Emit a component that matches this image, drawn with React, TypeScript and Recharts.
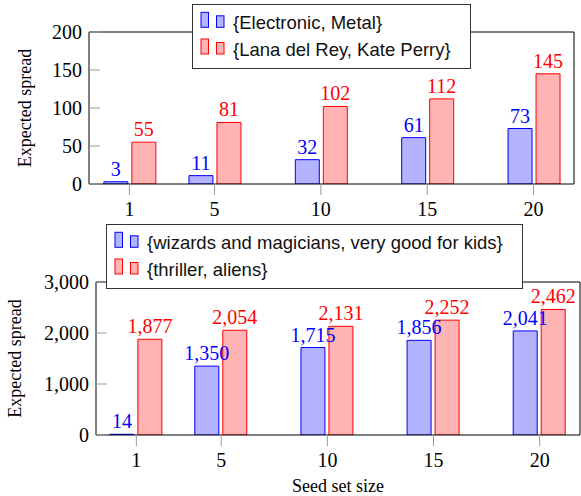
import { BarChart, Bar, XAxis, YAxis, Legend, LabelList } from "recharts";

// seed set sizes on the shared x axis
const seedSizes = [1, 5, 10, 15, 20];

// music panel
const electronicMetal = [3, 11, 32, 61, 73];
const lanaKate = [55, 81, 102, 112, 145];
const musicTicks = [0, 50, 100, 150, 200];
const musicLabels = ["{Electronic, Metal}", "{Lana del Rey, Kate Perry}"];

// movies panel
const wizardsKids = [14, 1350, 1715, 1856, 2041];
const thrillerAliens = [1877, 2054, 2131, 2252, 2462];
const movieTicks = [0, 1000, 2000, 3000];
const movieLabels = ["{wizards and magicians, very good for kids}", "{thriller, aliens}"];

const X_DOMAIN = [-0.9, 21.9];

const BLUE = { fill: "#b3b3ff", stroke: "#0000ff" };
const RED = { fill: "#ffb3b3", stroke: "#ff0000" };
const SERIF = "'Liberation Serif', 'Times New Roman', serif";
const SANS = "'Liberation Sans', Arial, sans-serif";
const TICK_GRAY = "#9a9a9a";

const fmt = (v: number) => Number(v).toLocaleString("en-US");

const toRows = (a: number[], b: number[]) =>
  seedSizes.map((size, i) => ({ size, first: a[i], second: b[i] }));

function LegendBox({ width, labels }: { width: number; labels: string[] }) {
  const h = 65;
  return (
    <svg width={width} height={h} style={{ display: "block" }}>
      <rect x={0.5} y={0.5} width={width - 1} height={h - 1} fill="#fff" stroke="#333" />
      {labels.map((text, i) => {
        const c = i === 0 ? BLUE : RED;
        const base = 23.3 + i * 26.7;
        return (
          <g key={text}>
            <rect x={9} y={base - 15} width={7.5} height={15} fill={c.fill} stroke={c.stroke} />
            <rect x={24.5} y={base - 11.5} width={7.5} height={11.5} fill={c.fill} stroke={c.stroke} />
            <text x={41} y={base + 2} fontFamily={SANS} fontSize={18.5} fill="#111">
              {text}
            </text>
          </g>
        );
      })}
    </svg>
  );
}

// rotated y-axis title; baseline sits at titleX
function VerticalTitle(props: any) {
  const { viewBox, titleX, text } = props;
  const cy = viewBox ? viewBox.y + viewBox.height / 2 : 100;
  return (
    <text
      transform={`translate(${titleX},${cy}) rotate(-90)`}
      textAnchor="middle"
      fontFamily={SERIF}
      fontSize={18}
      fill="#000"
    >
      {text}
    </text>
  );
}

type PanelProps = {
  height: number;
  rows: Array<Record<string, number>>;
  yTicks: number[];
  leftWidth: number;
  rightWidth: number;
  topHeight: number;
  bottomHeight: number;
  titleX: number;
  labels: string[];
  legendLeft: number;
  legendWidth: number;
  xTitle?: string;
};

function Panel(p: PanelProps) {
  const yMax = p.yTicks[p.yTicks.length - 1];
  const tickFont = { fill: "#000", fontSize: 20, fontFamily: SERIF };
  return (
    <BarChart
      width={581}
      height={p.height}
      data={p.rows}
      margin={{ top: 0, right: 0, bottom: 0, left: 0 }}
      barGap={4}
    >
      <XAxis
        xAxisId="bottom"
        dataKey="size"
        type="number"
        domain={X_DOMAIN}
        ticks={seedSizes}
        allowDataOverflow
        interval={0}
        height={p.bottomHeight}
        tickSize={11}
        tickMargin={7}
        stroke="#000"
        tickLine={{ stroke: TICK_GRAY }}
        tick={tickFont}
        label={
          p.xTitle
            ? { value: p.xTitle, position: "insideBottom", offset: 4, fill: "#000", fontSize: 18, fontFamily: SERIF }
            : undefined
        }
      />
      <XAxis
        xAxisId="top"
        orientation="top"
        dataKey="size"
        type="number"
        domain={X_DOMAIN}
        ticks={seedSizes}
        allowDataOverflow
        interval={0}
        height={p.topHeight}
        tickSize={11}
        stroke="#000"
        tickLine={{ stroke: TICK_GRAY }}
        tick={false}
      />
      <YAxis
        yAxisId="left"
        type="number"
        domain={[0, yMax]}
        ticks={p.yTicks}
        allowDataOverflow
        interval={0}
        width={p.leftWidth}
        tickSize={-11}
        tickMargin={18}
        tickFormatter={fmt}
        stroke="#000"
        tickLine={{ stroke: TICK_GRAY }}
        tick={tickFont}
        label={<VerticalTitle titleX={p.titleX} text="Expected spread" />}
      />
      <YAxis
        yAxisId="right"
        orientation="right"
        type="number"
        domain={[0, yMax]}
        ticks={p.yTicks}
        allowDataOverflow
        interval={0}
        width={p.rightWidth}
        tickSize={-11}
        stroke="#000"
        tickLine={{ stroke: TICK_GRAY }}
        tick={false}
      />
      <Legend
        layout="vertical"
        align="center"
        verticalAlign="middle"
        wrapperStyle={{ left: p.legendLeft, top: 4, width: p.legendWidth, height: 65 }}
        content={() => <LegendBox width={p.legendWidth} labels={p.labels} />}
      />
      <Bar
        xAxisId="bottom"
        yAxisId="left"
        dataKey="first"
        barSize={24}
        fill={BLUE.fill}
        stroke={BLUE.stroke}
        isAnimationActive={false}
      >
        <LabelList dataKey="first" position="top" offset={6} fill={BLUE.stroke} fontSize={20} fontFamily={SERIF} formatter={fmt} />
      </Bar>
      <Bar
        xAxisId="bottom"
        yAxisId="left"
        dataKey="second"
        barSize={24}
        fill={RED.fill}
        stroke={RED.stroke}
        isAnimationActive={false}
      >
        <LabelList dataKey="second" position="top" offset={6} fill={RED.stroke} fontSize={20} fontFamily={SERIF} formatter={fmt} />
      </Bar>
    </BarChart>
  );
}

export default function App() {
  return (
    <div style={{ position: "absolute", left: 0, top: 0, width: 581, height: 496, background: "#fff" }}>
      <div style={{ position: "absolute", left: 0, top: 0 }}>
        <Panel
          height={222}
          rows={toRows(electronicMetal, lanaKate)}
          yTicks={musicTicks}
          leftWidth={89}
          rightWidth={7}
          topHeight={32}
          bottomHeight={38}
          titleX={30.6}
          labels={musicLabels}
          legendLeft={192}
          legendWidth={279}
        />
      </div>
      <div style={{ position: "absolute", left: 0, top: 220 }}>
        <Panel
          height={276}
          rows={toRows(wizardsKids, thrillerAliens)}
          yTicks={movieTicks}
          leftWidth={96}
          rightWidth={1}
          topHeight={62}
          bottomHeight={61}
          titleX={21.3}
          labels={movieLabels}
          legendLeft={106}
          legendWidth={417}
          xTitle="Seed set size"
        />
      </div>
    </div>
  );
}
